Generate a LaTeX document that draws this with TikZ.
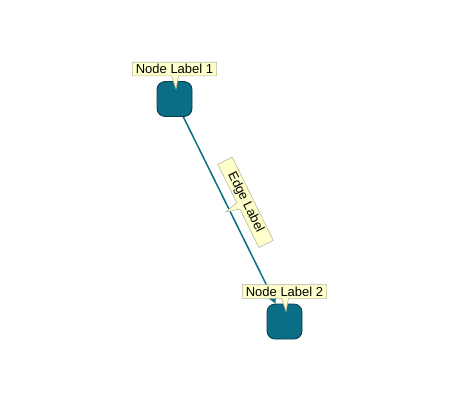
\documentclass[tikz,border=0pt]{standalone}
\usepackage{fontspec}
\setmainfont{Liberation Sans}
\usepackage{tikz}
\usetikzlibrary{positioning,arrows.meta,shapes.callouts}

\definecolor{nodeteal}{HTML}{0B6E87}
\definecolor{nodeedge}{HTML}{0A3C4A}
\definecolor{tagfill}{HTML}{FFFFCC}
\definecolor{tagline}{HTML}{B8B8A0}

\tikzset{
  vertex/.style={draw=nodeedge, fill=nodeteal, rounded corners=8pt,
    minimum width=35pt, minimum height=35pt, line width=0.8pt},
  tag/.style={rectangle callout, draw=tagline, fill=tagfill, text=black,
    line width=0.6pt, inner xsep=3.5pt, inner ysep=2pt, callout pointer width=7pt},
}

\begin{document}
\begin{tikzpicture}[x=1pt, y=-1pt, >={Triangle[width=8pt,length=8pt]}, font=\fontsize{13}{15}\selectfont]
			\useasboundingbox (0,0) rectangle (460,400);
			\node[vertex] (n1) at (174.5,99) {};
			\node[vertex] (n2) at (284.5,321.5) {};

			\draw[->, nodeteal, line width=1.5pt] (n1) -- coordinate[midway] (mid) (n2);

			\node[tag, rotate=-63.7, inner xsep=13.5pt, callout relative pointer={(0pt,-14pt)}] (elabel) at ([shift={(16,-8)}]mid) {Edge Label};
			\node[tag, above=5pt of n1, callout relative pointer={(1pt,-13pt)}] (l1) {Node Label 1};
			\node[tag, above=5pt of n2, callout relative pointer={(1pt,-13pt)}] (l2) {Node Label 2};
		\end{tikzpicture}
\end{document}
